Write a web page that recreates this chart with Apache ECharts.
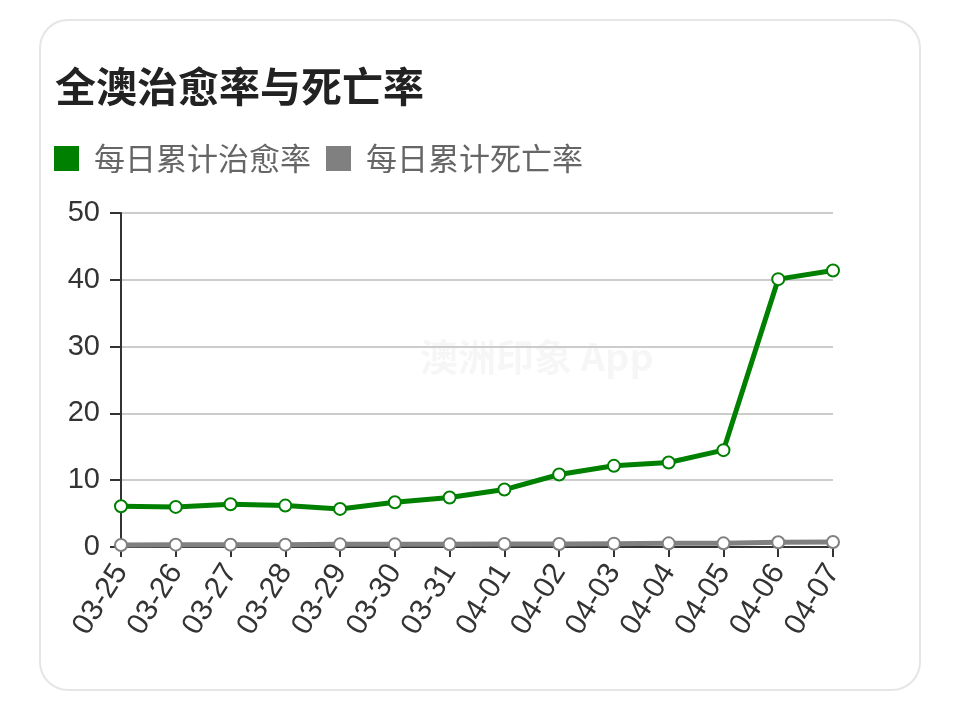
<!DOCTYPE html>
<html>
<head>
<meta charset="utf-8">
<script src="https://cdn.jsdelivr.net/npm/echarts@6/dist/echarts.min.js"></script>
<style>
html,body{margin:0;padding:0;background:#fff;}
#chart{width:962px;height:708px;}
</style>
</head>
<body>
<div id="chart"></div>
<script>
const titleText = '全澳治愈率与死亡率';
const categories = ['03-25','03-26','03-27','03-28','03-29','03-30','03-31','04-01','04-02','04-03','04-04','04-05','04-06','04-07'];
const seriesNames = ['每日累计治愈率','每日累计死亡率'];
const recoveryRate = [6.1, 6.0, 6.4, 6.2, 5.7, 6.7, 7.4, 8.6, 10.85, 12.15, 12.65, 14.5, 40.1, 41.4];
const deathRate = [0.3, 0.35, 0.35, 0.35, 0.4, 0.4, 0.4, 0.45, 0.45, 0.5, 0.55, 0.55, 0.7, 0.75];
const yTicks = [0, 10, 20, 30, 40, 50];

const FONT = '"Liberation Sans", "Noto Sans CJK SC", sans-serif';
const chart = echarts.init(document.getElementById('chart'));
chart.setOption({
  animation: false,
  backgroundColor: '#fff',
  graphic: [
    { type: 'rect', z: -10, shape: { x: 40, y: 20, width: 880, height: 670, r: 28 },
      style: { fill: '#fff', stroke: '#e6e6e6', lineWidth: 2 } },
    { type: 'text', z: -5, left: 420, top: 338,
      style: { text: '澳洲印象 App', fill: 'rgba(0,0,0,0.035)', font: 'bold 38px "Noto Sans CJK SC", sans-serif' } }
  ],
  title: {
    text: titleText, left: 50, top: 61,
    textStyle: { fontSize: 41, fontWeight: 'bold', color: '#222', fontFamily: '"Noto Sans CJK SC", sans-serif' }
  },
  legend: {
    data: seriesNames, left: 49, top: 138, icon: 'rect',
    itemWidth: 25, itemHeight: 25, itemGap: 15,
    textStyle: { fontSize: 31, color: '#666', fontFamily: '"Noto Sans CJK SC", sans-serif', padding: [0, 0, 0, 10] }
  },
  grid: { left: 121, right: 129, top: 213, bottom: 161, containLabel: false },
  xAxis: {
    type: 'category', data: categories, boundaryGap: false,
    axisLine: { lineStyle: { color: '#333', width: 2 } },
    axisTick: { show: true, length: 10, lineStyle: { color: '#333', width: 2 } },
    axisLabel: { rotate: 58, fontSize: 30, color: '#333', margin: 20, fontFamily: FONT, interval: 0 },
    splitLine: { show: false }
  },
  yAxis: {
    type: 'value', min: yTicks[0], max: yTicks[yTicks.length - 1], interval: 10,
    axisLine: { show: true, lineStyle: { color: '#333', width: 2 } },
    axisTick: { show: true, length: 11, lineStyle: { color: '#333', width: 2 } },
    axisLabel: { fontSize: 29, color: '#333', margin: 21, fontFamily: FONT },
    splitLine: { lineStyle: { color: '#ccc', width: 2 } }
  },
  series: [
    { name: seriesNames[0], type: 'line', data: recoveryRate, color: '#008000',
      symbol: 'emptyCircle', symbolSize: 12, lineStyle: { width: 5, color: '#008000' },
      itemStyle: { color: '#008000', borderWidth: 2 }, z: 3 },
    { name: seriesNames[1], type: 'line', data: deathRate, color: '#808080',
      symbol: 'emptyCircle', symbolSize: 12, lineStyle: { width: 5, color: '#808080' },
      itemStyle: { color: '#808080', borderWidth: 2 }, z: 2 }
  ]
});
</script>
</body>
</html>
